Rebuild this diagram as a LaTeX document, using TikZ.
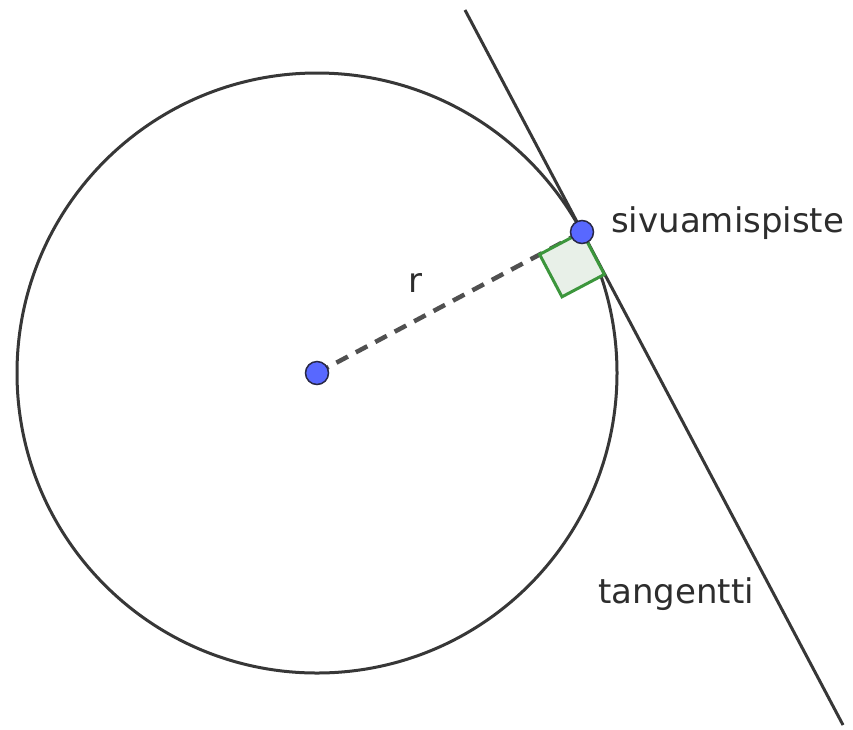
\documentclass[tikz,border=0pt]{standalone}
\usepackage{fontspec}
\newfontfamily\labelfont{DejaVu Sans}
\definecolor{linegray}{RGB}{55,55,55}
\definecolor{dashgray}{RGB}{80,80,80}
\definecolor{dotblue}{RGB}{88,104,255}
\definecolor{dotedge}{RGB}{40,40,70}
\definecolor{sqgreen}{RGB}{60,150,60}
\definecolor{sqfill}{RGB}{232,240,232}
\definecolor{txtgray}{RGB}{45,45,45}
\tikzset{
  geoline/.style={draw=linegray, line width=3pt},
  radiusline/.style={draw=dashgray, line width=4.5pt, dash pattern=on 13pt off 9pt},
  rightmark/.style={draw=sqgreen, fill=sqfill, line width=3pt, line join=miter},
  geodot/.style={circle, draw=dotedge, fill=dotblue, line width=1.5pt, minimum size=23pt, inner sep=0pt},
  geolabel/.style={font=\labelfont\fontsize{34}{40}\selectfont, text=txtgray, inner sep=0pt, anchor=base west}
}
\begin{document}
\begin{tikzpicture}[x=1pt,y=-1pt]
\useasboundingbox (0,0) rectangle (853,729);
\coordinate (O) at (317,373);
\coordinate (T) at (582,232);
\coordinate (A) at (465,10);
\coordinate (B) at (843,725);
\coordinate (P1) at (539.6,254.4);
\coordinate (P2) at (562.0,296.8);
\coordinate (P3) at (604.4,274.4);
\draw[geoline] (O) circle[radius=300pt];
\draw[geoline] (A) -- (B);
\draw[radiusline] (O) -- (T);
\draw[rightmark] (T) -- (P1) -- (P2) -- (P3) -- cycle;
\node[geodot] (c) at (O) {};
\node[geodot] (t) at (T) {};
\node[geolabel] (lr) at (408,292) {r};
\node[geolabel] (ls) at (611,232) {sivuamispiste};
\node[geolabel] (lt) at (598,603) {tangentti};
\end{tikzpicture}
\end{document}
